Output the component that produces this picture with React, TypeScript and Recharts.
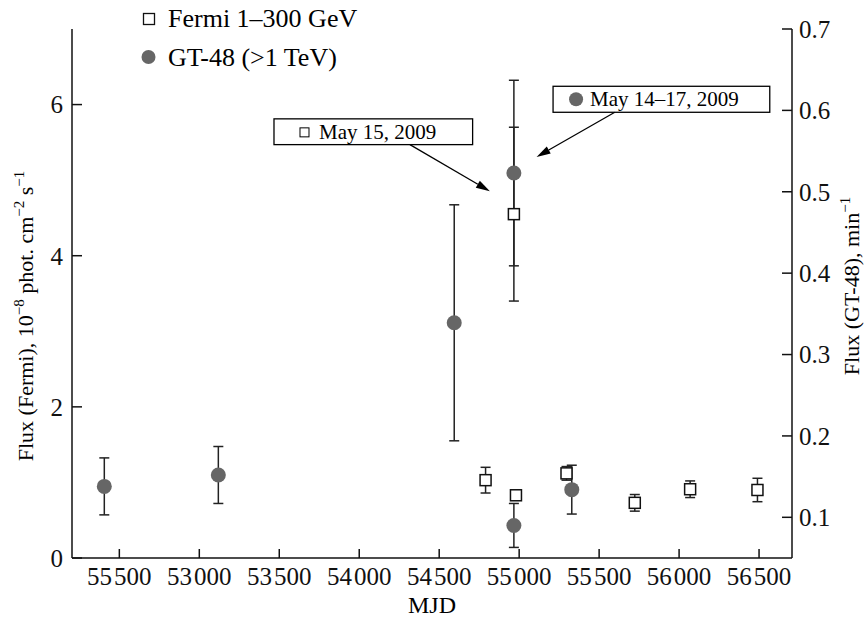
import React from "react";
import {
  ComposedChart,
  Scatter,
  ErrorBar,
  XAxis,
  YAxis,
  ReferenceArea,
  ReferenceLine,
  Label,
} from "recharts";

const FONT = "'Liberation Serif', 'Times New Roman', serif";

// Fermi 1-300 GeV (left axis, 10^-8 phot cm^-2 s^-1)
const FERMI_MJD = [54790, 54967, 54980, 55296, 55723, 56069, 56490];
const FERMI_FLUX = [1.03, 4.55, 0.83, 1.12, 0.73, 0.91, 0.9];
const FERMI_ERR = [0.17, 1.15, 0.06, 0.09, 0.11, 0.11, 0.155];

// GT-48 >1 TeV (right axis, min^-1)
const GT_MJD = [52406, 53119, 54594, 54967, 54967, 55329];
const GT_FLUX = [0.138, 0.152, 0.339, 0.523, 0.09, 0.134];
const GT_ERR = [0.035, 0.035, 0.145, 0.114, 0.027, 0.03];

const X_TICKS = [52500, 53000, 53500, 54000, 54500, 55000, 55500, 56000, 56500];
// first label is printed as "55 500" in the original figure
const X_TICK_LABELS = [
  "55\u200A500",
  "53\u200A000",
  "53\u200A500",
  "54\u200A000",
  "54\u200A500",
  "55\u200A000",
  "55\u200A500",
  "56\u200A000",
  "56\u200A500",
];
const LEFT_TICKS = [0, 2, 4, 6];
const RIGHT_TICKS = [0.1, 0.2, 0.3, 0.4, 0.5, 0.6, 0.7];

const fermiData = FERMI_MJD.map((mjd, i) => ({ mjd, flux: FERMI_FLUX[i], err: FERMI_ERR[i] }));
const gtData = GT_MJD.map((mjd, i) => ({ mjd, flux: GT_FLUX[i], err: GT_ERR[i] }));

const GREY = "#666";

const SquareShape = (props: any) => (
  <rect x={props.cx - 5.5} y={props.cy - 5.5} width={11} height={11} fill="#fff" stroke="#111" strokeWidth={1.5} />
);

const CircleShape = (props: any) => <circle cx={props.cx} cy={props.cy} r={7.5} fill={GREY} />;

const Arrow = (props: any) => {
  const { x1, y1, x2, y2 } = props;
  const ang = Math.atan2(y2 - y1, x2 - x1);
  const len = 14;
  const hw = 4;
  const bx = x2 - len * Math.cos(ang);
  const by = y2 - len * Math.sin(ang);
  const px = -Math.sin(ang) * hw;
  const py = Math.cos(ang) * hw;
  return (
    <g>
      <line x1={x1} y1={y1} x2={bx} y2={by} stroke="#000" strokeWidth={1.3} />
      <polygon points={`${x2},${y2} ${bx + px},${by + py} ${bx - px},${by - py}`} fill="#000" />
    </g>
  );
};

const FermiBox = (props: any) => {
  const { x, y, width, height } = props;
  return (
    <g>
      <rect x={x} y={y} width={width} height={height} fill="#fff" stroke="#000" strokeWidth={1.3} />
      <rect x={x + 26} y={y + 9} width={9} height={9} fill="#fff" stroke="#000" strokeWidth={1} />
      <text x={x + 45} y={y + 20} fontFamily={FONT} fontSize={21} fill="#000">
        May 15, 2009
      </text>
    </g>
  );
};

const GtBox = (props: any) => {
  const { x, y, width, height } = props;
  return (
    <g>
      <rect x={x} y={y} width={width} height={height} fill="#fff" stroke="#000" strokeWidth={1.3} />
      <circle cx={x + 23} cy={y + 13} r={7} fill={GREY} />
      <text x={x + 37} y={y + 20} fontFamily={FONT} fontSize={21} fill="#000">
        May 14{"\u2013"}17, 2009
      </text>
    </g>
  );
};

const LeftLabel = () => (
  <text x={33} y={316} transform="rotate(-90, 33, 316)" textAnchor="middle" fontFamily={FONT} fontSize={22} fill="#000">
    Flux (Fermi), 10
    <tspan dy={-9} fontSize={15}>{"\u2212"}8</tspan>
    <tspan dy={9}> phot. cm</tspan>
    <tspan dy={-9} fontSize={15}>{"\u2212"}2</tspan>
    <tspan dy={9}> s</tspan>
    <tspan dy={-9} fontSize={15}>{"\u2212"}1</tspan>
  </text>
);

const RightLabel = () => (
  <text x={859} y={286} transform="rotate(-90, 859, 286)" textAnchor="middle" fontFamily={FONT} fontSize={22} fill="#000">
    Flux (GT-48), min
    <tspan dy={-9} fontSize={15}>{"\u2212"}1</tspan>
  </text>
);

const BottomLabel = () => (
  <text x={432} y={613} textAnchor="middle" fontFamily={FONT} fontSize={24} fill="#000">
    MJD
  </text>
);

const tickStyle = { fill: "#111", fontSize: 25, fontFamily: FONT };
const axisStroke = { stroke: "#111", strokeWidth: 1.5 };

export default function App() {
  return (
    <div style={{ position: "absolute", left: 0, top: 0, width: 866, height: 618, background: "#fff" }}>
      <ComposedChart width={866} height={618} margin={{ top: 29, right: 0, bottom: 0, left: 0 }}>
        <XAxis
          dataKey="mjd"
          type="number"
          domain={[52204, 56706]}
          ticks={X_TICKS}
          tickFormatter={(_v: number, i: number) => X_TICK_LABELS[i]}
          height={60}
          tickSize={-9}
          tickMargin={18}
          tick={tickStyle}
          axisLine={axisStroke}
          tickLine={axisStroke}
          allowDataOverflow
        >
          <Label content={BottomLabel} />
        </XAxis>
        <YAxis
          yAxisId="left"
          orientation="left"
          type="number"
          domain={[0, 7]}
          ticks={LEFT_TICKS}
          width={72}
          tickSize={-10}
          tickMargin={19}
          tick={tickStyle}
          axisLine={axisStroke}
          tickLine={axisStroke}
          allowDataOverflow
        >
          <Label content={LeftLabel} />
        </YAxis>
        <YAxis
          yAxisId="right"
          orientation="right"
          type="number"
          domain={[0.05, 0.7]}
          ticks={RIGHT_TICKS}
          tickFormatter={(v: number) => v.toFixed(1)}
          width={74}
          tickSize={-10}
          tickMargin={17}
          tick={tickStyle}
          axisLine={axisStroke}
          tickLine={axisStroke}
          allowDataOverflow
        >
          <Label content={RightLabel} />
        </YAxis>

        <Scatter yAxisId="right" data={gtData} dataKey="flux" shape={CircleShape} isAnimationActive={false}>
          <ErrorBar dataKey="err" direction="y" width={5} stroke="#222" strokeWidth={1.5} />
        </Scatter>
        <Scatter yAxisId="left" data={fermiData} dataKey="flux" shape={SquareShape} isAnimationActive={false}>
          <ErrorBar dataKey="err" direction="y" width={5} stroke="#222" strokeWidth={1.5} />
        </Scatter>

        <ReferenceArea yAxisId="left" x1={53467} x2={54709} y1={5.47} y2={5.811} shape={FermiBox} />
        <ReferenceArea yAxisId="left" x1={55212} x2={56567} y1={5.898} y2={6.242} shape={GtBox} />
        <ReferenceLine
          yAxisId="left"
          segment={[
            { x: 54317, y: 5.47 },
            { x: 54817, y: 4.852 },
          ]}
          shape={Arrow}
        />
        <ReferenceLine
          yAxisId="left"
          segment={[
            { x: 55598, y: 5.898 },
            { x: 55109, y: 5.307 },
          ]}
          shape={Arrow}
        />
      </ComposedChart>

      <svg width={866} height={80} style={{ position: "absolute", left: 0, top: 0, pointerEvents: "none" }}>
        <rect x={143.5} y={13.5} width={11} height={11} fill="#fff" stroke="#111" strokeWidth={1.3} />
        <text x={168} y={27} fontFamily={FONT} fontSize={26} fill="#000">
          Fermi 1{"\u2013"}300 GeV
        </text>
        <circle cx={148.5} cy={57} r={7} fill={GREY} />
        <text x={168} y={66} fontFamily={FONT} fontSize={26} fill="#000">
          GT-48 ({">"}1 TeV)
        </text>
      </svg>
    </div>
  );
}
